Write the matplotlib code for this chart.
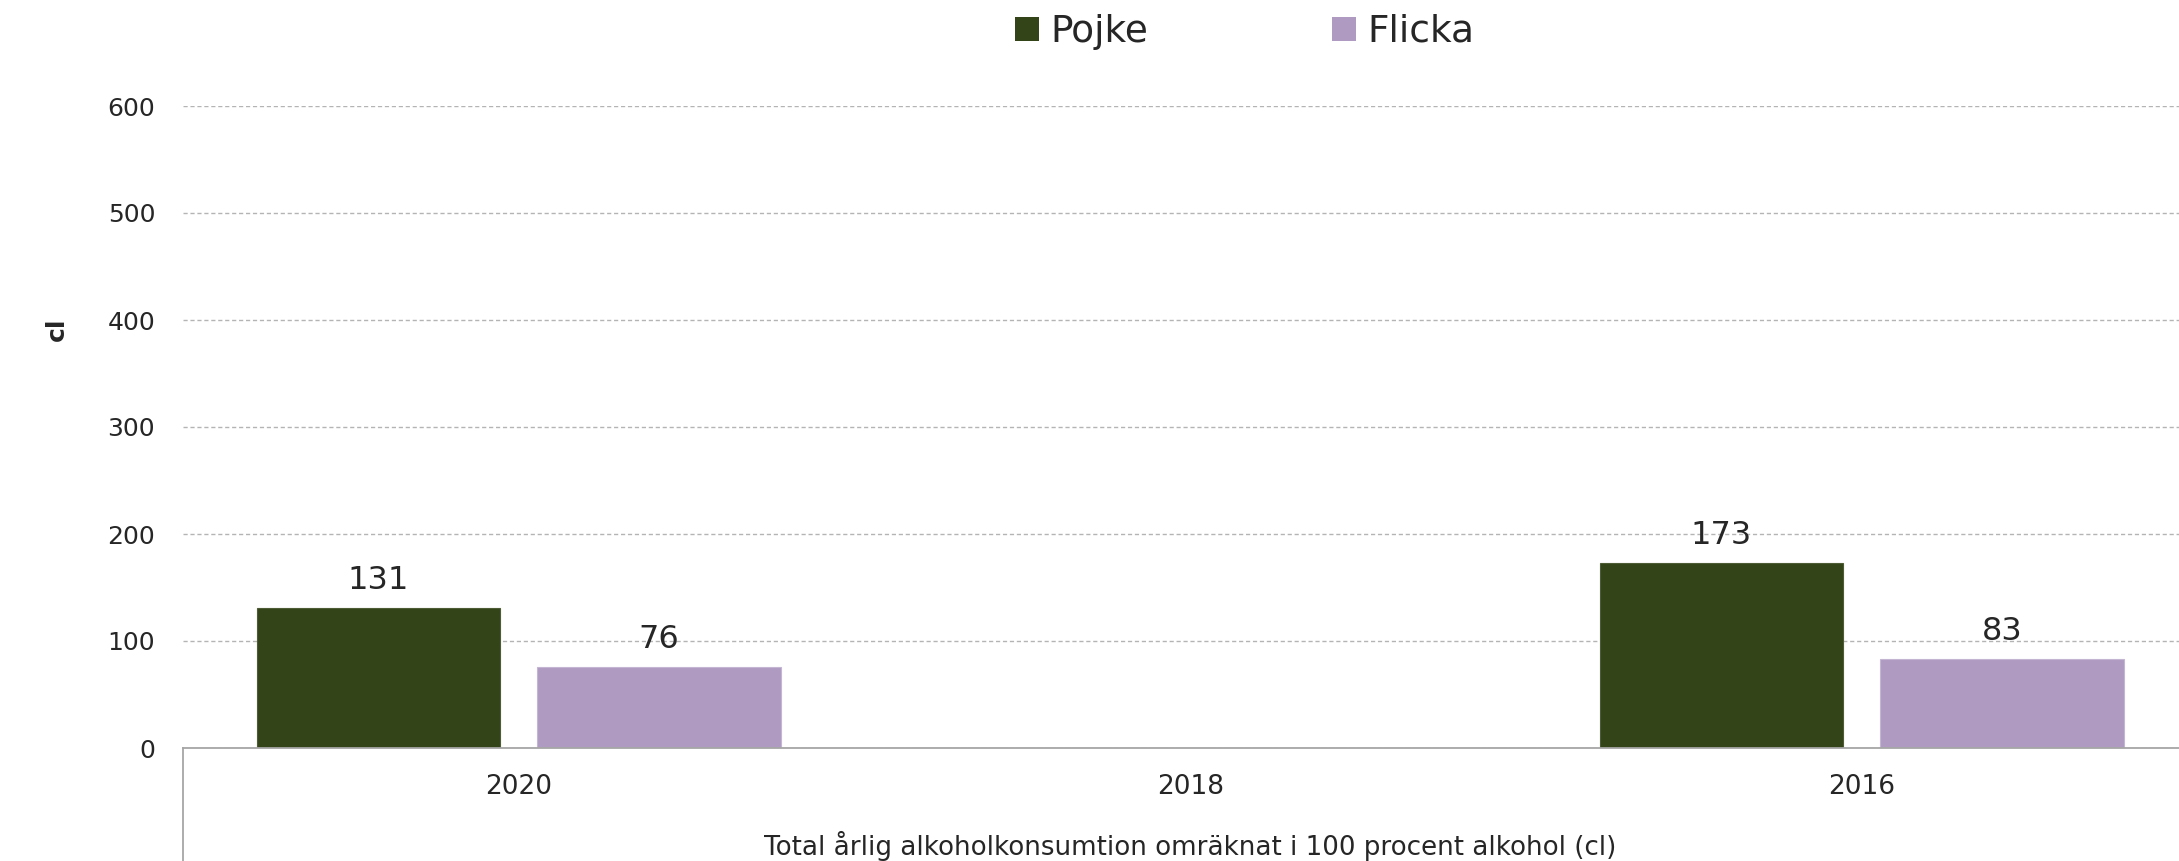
import numpy as np
import matplotlib
matplotlib.use("Agg")
from matplotlib import pyplot as plt
from matplotlib.patches import Patch
from matplotlib.lines import Line2D

# data
years = ["2020", "2018", "2016"]
pojke = [131, np.nan, 173]
flicka = [76, np.nan, 83]
series_names = ["Pojke", "Flicka"]
yticks = [0, 100, 200, 300, 400, 500, 600]

col_pojke = "#334419"
col_flicka = "#AF9BC2"
txt = "#262626"

plt.rcParams["font.family"] = ["DejaVu Sans"]

W, H = 2179, 861
fig = plt.figure(figsize=(W / 100, H / 100), dpi=100)
ax = fig.add_axes([183 / W, 113 / H, 2014.5 / W, 642 / H])

x = np.arange(len(years))
bw = 0.363
off = 0.209
b1 = ax.bar(x - off, pojke, bw, color=col_pojke, edgecolor="#4d5c35", linewidth=0.8, zorder=3)
b2 = ax.bar(x + off, flicka, bw, color=col_flicka, edgecolor="#c4b6d3", linewidth=0.8, zorder=3)

for bars, vals in ((b1, pojke), (b2, flicka)):
    for rect, v in zip(bars, vals):
        if np.isnan(v):
            continue
        ax.annotate(f"{v:.0f}", (rect.get_x() + rect.get_width() / 2, v),
                    xytext=(0, 13.7), textcoords="offset points",
                    ha="center", va="baseline", fontsize=23, color=txt)

ax.set_xlim(-0.5, 2.5)
ax.set_ylim(0, 600)
ax.set_yticks(yticks)
ax.set_xticks(x)
ax.set_xticklabels(years)
ax.tick_params(axis="y", length=0, pad=20, labelsize=18, labelcolor=txt)
ax.tick_params(axis="x", length=0, pad=19, labelsize=19, labelcolor=txt)

ax.yaxis.grid(True, color="#b4b4b4", linewidth=1.0, linestyle=(0, (3, 2)))
ax.set_axisbelow(True)
for s in ["top", "right", "left"]:
    ax.spines[s].set_visible(False)
ax.spines["bottom"].set_color("#a6a6a6")
ax.spines["bottom"].set_linewidth(1.3)
ax.spines["bottom"].set_zorder(4)

# left edge of the category label box
ax.add_line(Line2D([0, 0], [0, -113 / 642], transform=ax.transAxes,
                   color="#a6a6a6", linewidth=1.3, clip_on=False))

ax.set_ylabel("cl", fontsize=18, fontweight="bold", color=txt)
ax.yaxis.set_label_coords(-0.0566, 0.653)

fig.text(1190 / W, 6 / H, "Total årlig alkoholkonsumtion omräknat i 100 procent alkohol (cl)",
         ha="center", va="baseline", fontsize=18.8, color=txt)

handles = [Patch(facecolor=col_pojke), Patch(facecolor=col_flicka)]
fig.legend(handles, series_names, loc="center", bbox_to_anchor=(1245 / W, 1 - 32 / H),
           ncol=2, frameon=False, fontsize=27, handlelength=0.62, handleheight=0.62,
           handletextpad=0.32, columnspacing=4.9, labelcolor=txt)

fig.savefig("out.png", dpi=100)
